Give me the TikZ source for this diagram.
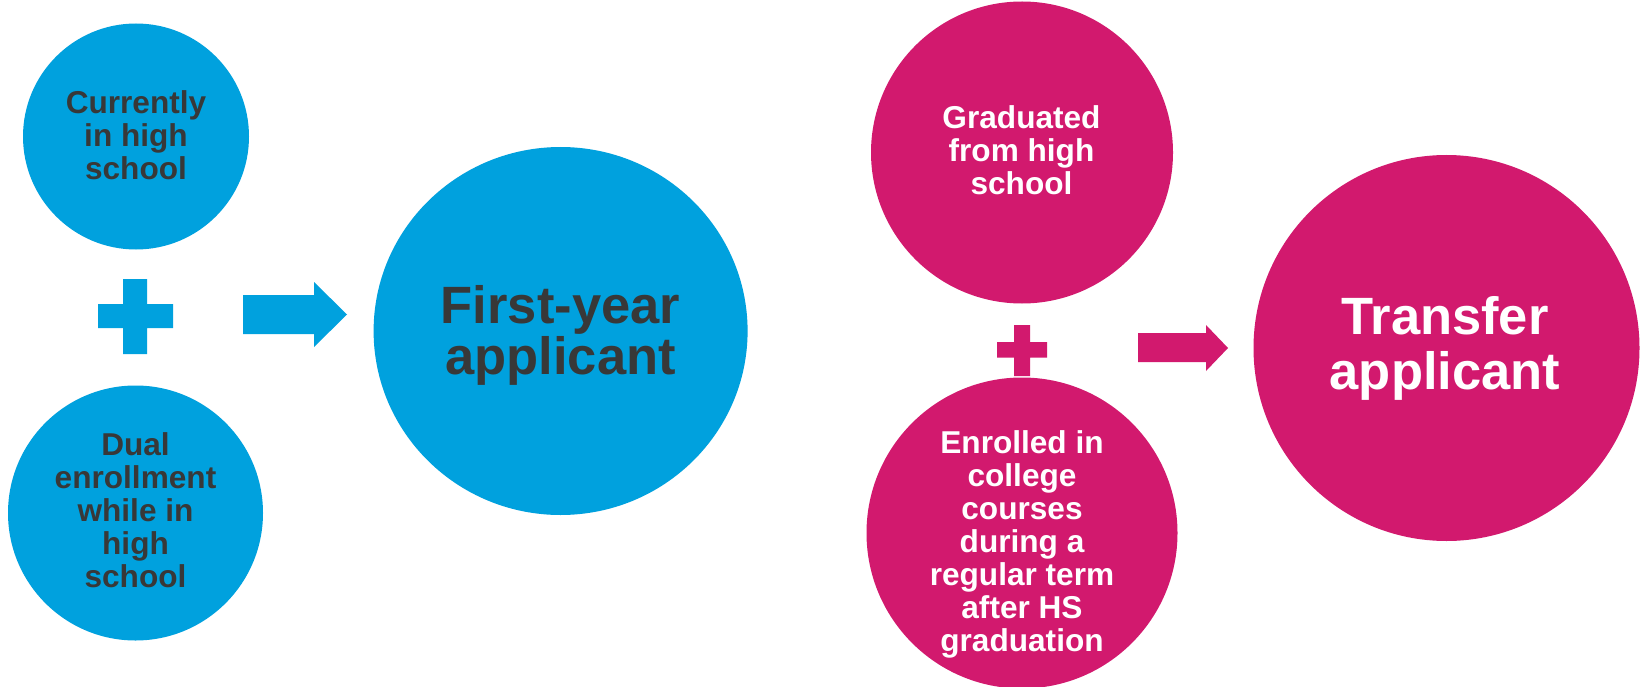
\documentclass[tikz,border=0pt]{standalone}
\usepackage{fontspec}
\setmainfont{Liberation Sans}
\definecolor{cblue}{RGB}{0,161,222}
\definecolor{cmag}{RGB}{210,25,110}
\definecolor{ctext}{RGB}{56,56,56}
\begin{document}
\begin{tikzpicture}[x=1pt,y=-1pt,
  small/.style={align=center,inner sep=0pt,font=\bfseries\fontsize{31.6}{33}\selectfont},
  big/.style={align=center,inner sep=0pt,font=\bfseries\fontsize{52.5}{51}\selectfont},
  bigt/.style={align=center,inner sep=0pt,font=\bfseries\fontsize{52.5}{55}\selectfont}]
\useasboundingbox (0,0) rectangle (1640,687);
\fill[white] (0,0) rectangle (1640,687);
% blue group
\fill[cblue] (136,136.5) circle (113);
\fill[cblue] (135.5,513) circle (127.5);
\fill[cblue] (560.6,331) ellipse (187 and 184);
\fill[cblue] (98,304) -- (123,304) -- (123,279) -- (147,279) -- (147,304) -- (173,304)
  -- (173,328) -- (147,328) -- (147,354) -- (123,354) -- (123,328) -- (98,328) -- cycle;
\fill[cblue] (243,295) -- (314,295) -- (314,282) -- (347,314.5) -- (314,347) -- (314,334) -- (243,334) -- cycle;
\node[small,text=ctext] (t1) at (136,135) {Currently\\in high\\school};
\node[small,text=ctext] (t2) at (135.5,510) {Dual\\enrollment\\while in\\high\\school};
\node[big,text=ctext] (t3) at (560.5,335) {First-year\\applicant};
% magenta group
\fill[cmag] (1022,152.5) circle (151);
\fill[cmag] (1022,533) circle (155.5);
\fill[cmag] (1446.5,348) circle (193);
\fill[cmag] (997,342) -- (1014,342) -- (1014,325) -- (1030,325) -- (1030,342) -- (1047,342)
  -- (1047,357.5) -- (1030,357.5) -- (1030,376) -- (1014,376) -- (1014,357.5) -- (997,357.5) -- cycle;
\fill[cmag] (1138,333) -- (1206,333) -- (1206,325) -- (1228,348) -- (1206,371) -- (1206,362) -- (1138,362) -- cycle;
\node[small,text=white] (t4) at (1021.5,150) {Graduated\\from high\\school};
\node[small,text=white] (t5) at (1022,544) {Enrolled in\\college\\courses\\during a\\regular term\\after HS\\graduation};
\node[bigt,text=white] (t6) at (1445,348) {Transfer\\applicant};
\end{tikzpicture}
\end{document}
